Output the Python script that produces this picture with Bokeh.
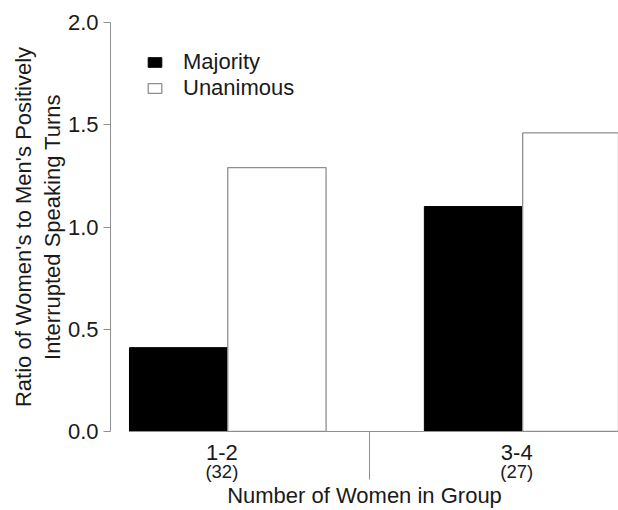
from bokeh.plotting import figure
from bokeh.models import (ColumnDataSource, FixedTicker, PrintfTickFormatter,
                          Legend, LegendItem, LinearAxis, Range1d)
from bokeh.embed import file_html
from bokeh.resources import INLINE

# ---- data ----
groups = ["1-2", "3-4"]
group_counts = ["(32)", "(27)"]
series = ["Majority", "Unanimous"]
majority = [0.41, 1.10]
unanimous = [1.29, 1.46]
y_ticks = [0.0, 0.5, 1.0, 1.5, 2.0]

FONT = "Liberation Sans"
TEXT = "#1a1a1a"
GRAY = "#8f8f8f"

# layout in "bar width" units: each group = 2 bars, one empty bar between groups
BAR_W = 1.0
GROUP_STEP = 3.0
centers = [i * GROUP_STEP + BAR_W for i in range(len(groups))]
maj_x = [c - BAR_W / 2 for c in centers]
una_x = [c + BAR_W / 2 for c in centers]
LABEL_SHIFT = -0.06
label_x = [c + LABEL_SHIFT for c in centers]
sep_x = [(centers[i] + centers[i + 1]) / 2 + LABEL_SHIFT for i in range(len(groups) - 1)]

p = figure(width=618, height=510, output_backend="svg", toolbar_location=None,
           x_range=Range1d(-0.193, 4.975), y_range=Range1d(0, 2.0),
           min_border_left=110, min_border_right=0, min_border_top=22,
           min_border_bottom=78)
p.outline_line_color = None
p.grid.visible = False
p.background_fill_color = "white"
p.border_fill_color = "white"

src_m = ColumnDataSource(dict(x=maj_x, top=majority))
src_u = ColumnDataSource(dict(x=una_x, top=unanimous))
r_m = p.vbar(x="x", top="top", bottom=0, width=BAR_W, source=src_m,
             fill_color="black", line_color="black", line_width=1)
r_u = p.vbar(x="x", top="top", bottom=0, width=BAR_W, source=src_u,
             fill_color="white", line_color=GRAY, line_width=1.3)

# y axis
ya = p.yaxis[0]
ya.ticker = FixedTicker(ticks=y_ticks)
ya.formatter = PrintfTickFormatter(format="%.1f")
ya.minor_tick_line_color = None
ya.major_tick_out = 7
ya.major_tick_in = 0
ya.axis_line_color = GRAY
ya.major_tick_line_color = GRAY
ya.major_label_text_font = FONT
ya.major_label_text_font_size = "22px"
ya.major_label_text_color = TEXT
ya.major_label_standoff = 5
ya.axis_label = "Ratio of Women's to Men's Positively\nInterrupted Speaking Turns"
ya.axis_label_text_font = FONT
ya.axis_label_text_font_size = "22px"
ya.axis_label_text_font_style = "normal"
ya.axis_label_text_color = TEXT
ya.axis_label_text_line_height = 1.15
ya.axis_label_standoff = 0

# x axis: group labels, baseline and separator tick
xa = p.xaxis[0]
xa.bounds = (maj_x[0] - BAR_W / 2, una_x[-1] + BAR_W / 2)
xa.ticker = FixedTicker(ticks=label_x, minor_ticks=sep_x)
xa.major_label_overrides = {lx: g for lx, g in zip(label_x, groups)}
xa.axis_line_color = GRAY
xa.major_tick_line_color = None
xa.major_tick_out = 0
xa.major_tick_in = 0
xa.minor_tick_line_color = GRAY
xa.minor_tick_out = 48
xa.minor_tick_in = 0
xa.major_label_text_font = FONT
xa.major_label_text_font_size = "22px"
xa.major_label_text_color = TEXT
xa.major_label_standoff = -35

# second x axis: group sizes and axis title
xb = LinearAxis(ticker=FixedTicker(ticks=label_x, minor_ticks=[]))
xb.major_label_overrides = {lx: c for lx, c in zip(label_x, group_counts)}
xb.axis_line_color = None
xb.major_tick_line_color = None
xb.minor_tick_line_color = None
xb.major_tick_out = 0
xb.major_tick_in = 0
xb.minor_tick_out = 0
xb.minor_tick_in = 0
xb.major_label_text_font = FONT
xb.major_label_text_font_size = "18.5px"
xb.major_label_text_color = TEXT
xb.major_label_standoff = -2
xb.axis_label = "Number of Women in Group"
xb.axis_label_text_font = FONT
xb.axis_label_text_font_size = "22px"
xb.axis_label_text_font_style = "normal"
xb.axis_label_text_color = TEXT
xb.axis_label_standoff = -2
p.add_layout(xb, "below")

legend = Legend(items=[LegendItem(label=series[0], renderers=[r_m]),
                       LegendItem(label=series[1], renderers=[r_u])],
                location=(36, 330), orientation="vertical")
legend.border_line_color = None
legend.background_fill_alpha = 0
legend.padding = 0
legend.margin = 0
legend.glyph_width = 17
legend.glyph_height = 12
legend.label_height = 25
legend.spacing = 0
legend.label_standoff = 20
legend.label_text_font = FONT
legend.label_text_font_size = "22px"
legend.label_text_color = TEXT
p.add_layout(legend)

open("out.html", "w").write(file_html(p, INLINE))
